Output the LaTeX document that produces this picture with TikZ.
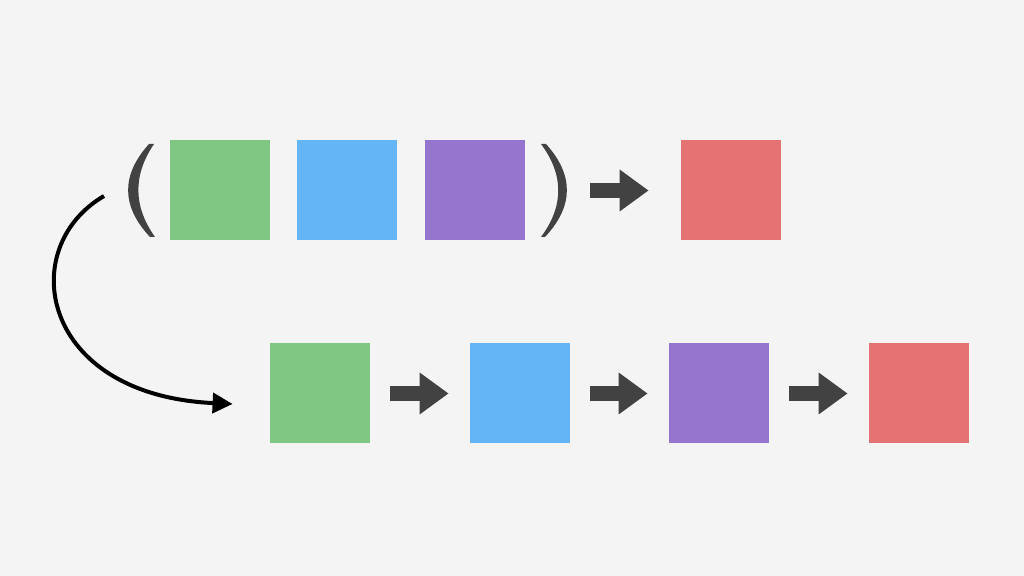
\documentclass[tikz,border=0pt]{standalone}
\usetikzlibrary{arrows.meta}
\definecolor{bg}{HTML}{F4F4F4}
\definecolor{ink}{HTML}{424242}
\definecolor{cgreen}{HTML}{81C784}
\definecolor{cblue}{HTML}{64B5F6}
\definecolor{cpurple}{HTML}{9575CD}
\definecolor{cred}{HTML}{E57373}
\begin{document}
\begin{tikzpicture}[x=0.5pt,y=-0.5pt,
	block/.style={minimum size=50pt, inner sep=0pt, fill=#1},
	fatarrow/.style={ink, line width=7.5pt, -{Triangle[width=20pt,length=14.5pt]}},
	curvearrow/.style={black, line width=2pt, -{Triangle[width=10pt,length=10pt]}}]
	\fill[bg] (0,0) rectangle (1024,576);
	
	% the tuple
	\node[block=cgreen]  (g1) at (219.5,190.5) {};
	\node[block=cblue]   (b1) at (347,190.5) {};
	\node[block=cpurple] (p1) at (475,190.5) {};
	\node[block=cred]    (r1) at (731,190.5) {};
	\fill[ink] (149,144) .. controls (121,175) and (121,206) .. (150,237) -- (155,237) .. controls (133,206) and (133,175) .. (154,144) -- cycle;
	\fill[ink] (546,144) .. controls (574,175) and (574,206) .. (545,237) -- (541,237) .. controls (564,206) and (564,175) .. (541,144) -- cycle;
	\coordinate (close) at (567,190.5);
	\draw[fatarrow] ([xshift=11.5pt]close) -- ([xshift=-16pt]r1.west);
	
	% the chain
	\node[block=cgreen]  (g2) at (320,393.5) {};
	\node[block=cblue]   (b2) at (520,393.5) {};
	\node[block=cpurple] (p2) at (719,393.5) {};
	\node[block=cred]    (r2) at (919,393.5) {};
	\draw[fatarrow] ([xshift=10pt]g2.east) -- ([xshift=-10.5pt]b2.west);
	\draw[fatarrow] ([xshift=10pt]b2.east) -- ([xshift=-10.5pt]p2.west);
	\draw[fatarrow] ([xshift=10pt]p2.east) -- ([xshift=-10.5pt]r2.west);
	
	\coordinate (from) at (104,196);
	\draw[curvearrow] (from) .. controls (15,248) and (40,395) .. ([xshift=-18.5pt,yshift=-5.25pt]g2.west);
\end{tikzpicture}
\end{document}
